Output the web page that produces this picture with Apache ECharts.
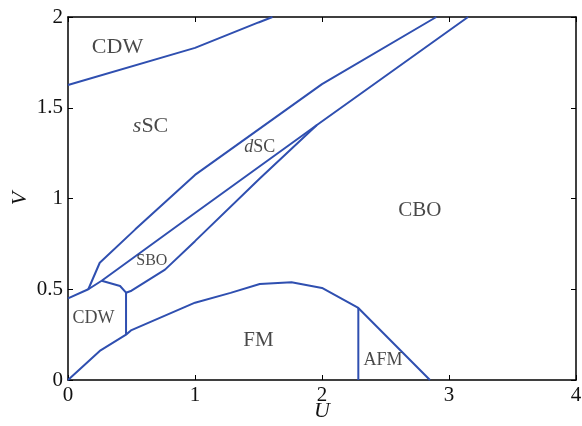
<!DOCTYPE html>
<html>
<head>
<meta charset="utf-8">
<script src="https://cdn.jsdelivr.net/npm/echarts@6/dist/echarts.min.js"></script>
<style>
  html, body { margin: 0; padding: 0; background: #fff; }
  #chart { width: 582px; height: 426px; }
</style>
</head>
<body>
<div id="chart"></div>
<script>
// axis ticks
var uTicks = [0, 1, 2, 3, 4];
var vTicks = [0, 0.5, 1, 1.5, 2];

// phase boundaries, [U, V]
var cdwTop = [[0, 1.625], [1.0, 1.83], [1.5, 1.97], [1.61, 2.0]];
var sscUpper = [[0.16, 0.5], [0.25, 0.646], [0.53, 0.83], [1.0, 1.13], [2.0, 1.63], [2.9, 2.0]];
var dscLower = [[0, 0.45], [0.16, 0.5], [0.265, 0.547], [1.0, 0.92], [1.96, 1.405], [3.15, 2.0]];
var sboLower = [[0.265, 0.547], [0.41, 0.518], [0.457, 0.481], [0.5, 0.492], [0.764, 0.608],
                [1.0, 0.765], [1.51, 1.11], [1.96, 1.405]];
var cdwSboWall = [[0.457, 0.481], [0.457, 0.25]];
var fmUpper = [[0, 0], [0.25, 0.16], [0.457, 0.25], [0.5, 0.275], [1.0, 0.426], [1.28, 0.48],
               [1.51, 0.529], [1.76, 0.538], [2.0, 0.507], [2.286, 0.397], [2.85, 0]];
var afmWall = [[2.286, 0.397], [2.286, 0]];

// region names and where they sit
var regionNames = ['CDW', 'sSC', 'dSC', 'CBO', 'SBO', 'CDW', 'FM', 'AFM'];
var regionU = [0.39, 0.65, 1.51, 2.77, 0.66, 0.2, 1.5, 2.48];
var regionV = [1.835, 1.396, 1.285, 0.933, 0.657, 0.34, 0.22, 0.11];

var blue = '#2f4fb0';
var serif = 'Liberation Serif';
var labelSizes = [22, 22, 18, 21, 16, 18, 21, 18];

var boundaries = [cdwTop, sscUpper, dscLower, sboLower, cdwSboWall, fmUpper, afmWall];

var series = boundaries.map(function (b) {
    return {
        type: 'line',
        data: b,
        showSymbol: false,
        symbol: 'none',
        silent: true,
        lineStyle: { color: blue, width: 2 },
        z: 3
    };
});

series.push({
    type: 'scatter',
    symbolSize: 0,
    silent: true,
    z: 4,
    data: regionNames.map(function (n, i) {
        var fs = labelSizes[i];
        var txt = n;
        if (n === 'sSC') txt = '{i|s}{r|SC}';
        else if (n === 'dSC') txt = '{i|d}{r|SC}';
        else txt = '{r|' + n + '}';
        return {
            value: [regionU[i], regionV[i]],
            label: {
                show: true,
                position: 'inside',
                formatter: txt,
                rich: {
                    i: { fontFamily: serif, fontStyle: 'italic', fontSize: fs, color: '#1a1a1a' },
                    r: { fontFamily: serif, fontSize: fs, color: '#1a1a1a' }
                }
            }
        };
    })
});

function frameAxis(pos, ticks) {
    return {
        type: 'value',
        position: pos,
        min: ticks[0],
        max: ticks[ticks.length - 1],
        interval: ticks[1] - ticks[0],
        axisLine: { show: true, onZero: false, lineStyle: { color: '#000', width: 1.5 } },
        axisTick: { show: true, inside: true, length: 5, lineStyle: { color: '#000', width: 1 } },
        axisLabel: { show: false },
        splitLine: { show: false }
    };
}

var xMain = frameAxis('bottom', uTicks);
xMain.axisLabel = { show: true, fontFamily: serif, fontSize: 21, color: '#111', margin: 5 };
xMain.name = 'U';
xMain.nameLocation = 'middle';
xMain.nameGap = 20;
xMain.nameMoveOverlap = false;
xMain.nameTextStyle = { fontFamily: serif, fontStyle: 'italic', fontSize: 22, color: '#111' };

var yMain = frameAxis('left', vTicks);
yMain.axisLabel = { show: true, fontFamily: serif, fontSize: 21, color: '#111', margin: 5 };
yMain.name = 'V';
yMain.nameLocation = 'middle';
yMain.nameGap = 37;
yMain.nameMoveOverlap = false;
yMain.nameTextStyle = { fontFamily: serif, fontStyle: 'italic', fontSize: 22, color: '#111' };

var option = {
    animation: false,
    backgroundColor: '#fff',
    grid: { left: 68, right: 6, top: 17, bottom: 46, containLabel: false, outerBoundsMode: 'none' },
    xAxis: [xMain, frameAxis('top', uTicks)],
    yAxis: [yMain, frameAxis('right', vTicks)],
    series: series
};

var myChart = echarts.init(document.getElementById('chart'), null, { renderer: 'canvas' });
myChart.setOption(option);
window.addEventListener('resize', myChart.resize);
</script>
</body>
</html>
